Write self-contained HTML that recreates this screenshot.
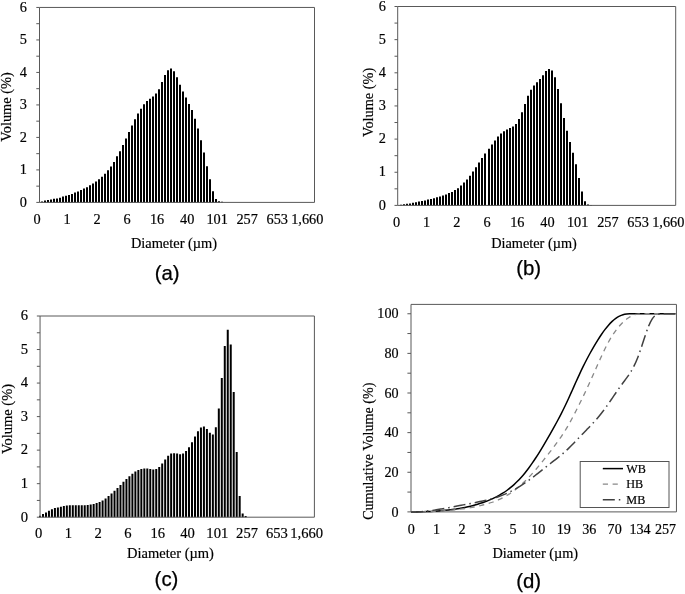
<!DOCTYPE html>
<html lang="en"><head><meta charset="utf-8"><title>Particle size distribution</title>
<style>
html,body{margin:0;padding:0;background:#fff}
svg{display:block}
text{font-family:"Liberation Serif","Times New Roman",serif;fill:#000;stroke:#000;stroke-width:.18px}
text.s{font-family:"Liberation Sans",Arial,sans-serif;font-size:20.4px;fill:#000;stroke:#000;stroke-width:0.25px}
</style></head><body>
<svg width="685" height="594" viewBox="0 0 685 594">
<rect width="685" height="594" fill="#fff"/>
<path d="M41 202.40V201.40h2V202.40zM44 202.40V200.60h2V202.40zM47 202.40V200.10h2V202.40zM50 202.40V199.50h2V202.40zM53 202.40V198.80h2V202.40zM56 202.40V198.50h2V202.40zM59 202.40V197.80h2V202.40zM62 202.40V196.50h2V202.40zM65 202.40V195.80h2V202.40zM68 202.40V194.90h2V202.40zM71 202.40V194.00h2V202.40zM74 202.40V192.40h2V202.40zM77 202.40V191.40h2V202.40zM80 202.40V190.10h2V202.40zM83 202.40V188.60h2V202.40zM86 202.40V187.20h2V202.40zM89 202.40V185.30h2V202.40zM92 202.40V183.50h2V202.40zM95 202.40V181.60h2V202.40zM98 202.40V179.30h2V202.40zM101 202.40V176.70h2V202.40zM104 202.40V173.80h2V202.40zM107 202.40V170.30h2V202.40zM110 202.40V166.50h2V202.40zM113 202.40V162.00h2V202.40zM116 202.40V156.30h2V202.40zM119 202.40V151.20h2V202.40zM122 202.40V145.00h2V202.40zM125 202.40V138.40h2V202.40zM128 202.40V132.10h2V202.40zM131 202.40V125.40h2V202.40zM134 202.40V119.20h2V202.40zM137 202.40V113.50h2V202.40zM140 202.40V108.70h2V202.40zM143 202.40V104.20h2V202.40zM146 202.40V101.10h2V202.40zM149 202.40V98.80h2V202.40zM152 202.40V96.50h2V202.40zM155 202.40V93.50h2V202.40zM158 202.40V89.20h2V202.40zM161 202.40V82.10h2V202.40zM164 202.40V75.10h2V202.40zM167 202.40V70.20h2V202.40zM170 202.40V68.60h2V202.40zM173 202.40V71.30h2V202.40zM176 202.40V77.30h2V202.40zM179 202.40V84.70h2V202.40zM182 202.40V91.60h2V202.40zM185 202.40V97.50h2V202.40zM188 202.40V103.90h2V202.40zM191 202.40V110.10h2V202.40zM194 202.40V118.70h2V202.40zM197 202.40V128.50h2V202.40zM200 202.40V140.20h2V202.40zM203 202.40V152.50h2V202.40zM206 202.40V166.20h2V202.40zM209 202.40V179.30h2V202.40zM212 202.40V191.20h2V202.40zM215 202.40V199.00h2V202.40zM218 202.40V201.20h2V202.40zM221 202.40V201.80h2V202.40z" fill="#000"/>
<path d="M39.5 202.4V7.45H314.5V202.4z" fill="none" stroke="#595959" stroke-width="1"/>
<path d="M36.30 202.40H39.5M36.30 186.15H39.5M36.30 169.91H39.5M36.30 153.66H39.5M36.30 137.42H39.5M36.30 121.17H39.5M36.30 104.93H39.5M36.30 88.68H39.5M36.30 72.43H39.5M36.30 56.19H39.5M36.30 39.94H39.5M36.30 23.70H39.5M36.30 7.45H39.5" stroke="#595959" stroke-width="1" fill="none"/>
<text x="27.0" y="206.62" text-anchor="end" font-size="14.3">0</text>
<text x="27.0" y="174.13" text-anchor="end" font-size="14.3">1</text>
<text x="27.0" y="141.64" text-anchor="end" font-size="14.3">2</text>
<text x="27.0" y="109.14" text-anchor="end" font-size="14.3">3</text>
<text x="27.0" y="76.65" text-anchor="end" font-size="14.3">4</text>
<text x="27.0" y="44.16" text-anchor="end" font-size="14.3">5</text>
<text x="27.0" y="11.67" text-anchor="end" font-size="14.3">6</text>
<text x="37.00" y="223.7" text-anchor="middle" font-size="14.3">0</text>
<text x="67.03" y="223.7" text-anchor="middle" font-size="14.3">1</text>
<text x="97.06" y="223.7" text-anchor="middle" font-size="14.3">2</text>
<text x="127.09" y="223.7" text-anchor="middle" font-size="14.3">6</text>
<text x="157.12" y="223.7" text-anchor="middle" font-size="14.3">16</text>
<text x="187.15" y="223.7" text-anchor="middle" font-size="14.3">40</text>
<text x="217.18" y="223.7" text-anchor="middle" font-size="14.3">101</text>
<text x="247.21" y="223.7" text-anchor="middle" font-size="14.3">257</text>
<text x="277.24" y="223.7" text-anchor="middle" font-size="14.3">653</text>
<text x="307.27" y="223.7" text-anchor="middle" font-size="14.3">1,660</text>
<text x="174" y="247.6" text-anchor="middle" font-size="14.4">Diameter (µm)</text>
<text transform="translate(11.4 107.0) rotate(-90)" text-anchor="middle" font-size="14.4">Volume (%)</text>
<text x="167.2" y="279.8" text-anchor="middle" class="s">(a)</text>
<path d="M400 205.40V204.70h2V205.40zM403 205.40V204.30h2V205.40zM406 205.40V203.65h2V205.40zM409 205.40V203.40h2V205.40zM412 205.40V202.70h2V205.40zM415 205.40V202.30h2V205.40zM418 205.40V201.60h2V205.40zM421 205.40V201.00h2V205.40zM424 205.40V200.40h2V205.40zM427 205.40V199.60h2V205.40zM430 205.40V198.90h2V205.40zM433 205.40V198.30h2V205.40zM436 205.40V197.30h2V205.40zM439 205.40V196.60h2V205.40zM442 205.40V195.60h2V205.40zM445 205.40V194.60h2V205.40zM448 205.40V193.00h2V205.40zM451 205.40V191.90h2V205.40zM454 205.40V189.90h2V205.40zM457 205.40V188.20h2V205.40zM460 205.40V185.50h2V205.40zM463 205.40V182.50h2V205.40zM466 205.40V179.40h2V205.40zM469 205.40V175.70h2V205.40zM472 205.40V171.40h2V205.40zM475 205.40V167.30h2V205.40zM478 205.40V162.60h2V205.40zM481 205.40V157.90h2V205.40zM484 205.40V153.50h2V205.40zM488 205.40V148.80h2V205.40zM491 205.40V144.40h2V205.40zM494 205.40V140.40h2V205.40zM497 205.40V136.40h2V205.40zM500 205.40V133.40h2V205.40zM503 205.40V131.20h2V205.40zM506 205.40V129.40h2V205.40zM509 205.40V127.90h2V205.40zM512 205.40V126.50h2V205.40zM515 205.40V124.00h2V205.40zM518 205.40V119.10h2V205.40zM521 205.40V112.30h2V205.40zM524 205.40V103.90h2V205.40zM527 205.40V95.80h2V205.40zM530 205.40V89.70h2V205.40zM533 205.40V85.40h2V205.40zM536 205.40V82.30h2V205.40zM539 205.40V79.00h2V205.40zM542 205.40V75.20h2V205.40zM545 205.40V71.10h2V205.40zM548 205.40V68.90h2V205.40zM551 205.40V70.50h2V205.40zM554 205.40V77.30h2V205.40zM557 205.40V89.10h2V205.40zM560 205.40V103.20h2V205.40zM563 205.40V117.90h2V205.40zM566 205.40V130.80h2V205.40zM569 205.40V141.90h2V205.40zM572 205.40V152.70h2V205.40zM575 205.40V164.30h2V205.40zM578 205.40V178.00h2V205.40zM581 205.40V191.60h2V205.40zM584 205.40V201.20h2V205.40zM587 205.40V204.50h2V205.40zM590 205.40V204.90h2V205.40z" fill="#000"/>
<path d="M397.7 205.4V6.5H675.7V205.4z" fill="none" stroke="#595959" stroke-width="1"/>
<path d="M394.50 205.40H397.7M394.50 188.83H397.7M394.50 172.25H397.7M394.50 155.68H397.7M394.50 139.10H397.7M394.50 122.53H397.7M394.50 105.95H397.7M394.50 89.38H397.7M394.50 72.80H397.7M394.50 56.23H397.7M394.50 39.65H397.7M394.50 23.08H397.7M394.50 6.50H397.7" stroke="#595959" stroke-width="1" fill="none"/>
<text x="386.0" y="209.62" text-anchor="end" font-size="14.3">0</text>
<text x="386.0" y="176.47" text-anchor="end" font-size="14.3">1</text>
<text x="386.0" y="143.32" text-anchor="end" font-size="14.3">2</text>
<text x="386.0" y="110.17" text-anchor="end" font-size="14.3">3</text>
<text x="386.0" y="77.02" text-anchor="end" font-size="14.3">4</text>
<text x="386.0" y="43.87" text-anchor="end" font-size="14.3">5</text>
<text x="386.0" y="10.72" text-anchor="end" font-size="14.3">6</text>
<text x="396.50" y="227" text-anchor="middle" font-size="14.3">0</text>
<text x="426.70" y="227" text-anchor="middle" font-size="14.3">1</text>
<text x="456.90" y="227" text-anchor="middle" font-size="14.3">2</text>
<text x="487.10" y="227" text-anchor="middle" font-size="14.3">6</text>
<text x="517.30" y="227" text-anchor="middle" font-size="14.3">16</text>
<text x="547.50" y="227" text-anchor="middle" font-size="14.3">40</text>
<text x="577.70" y="227" text-anchor="middle" font-size="14.3">101</text>
<text x="607.90" y="227" text-anchor="middle" font-size="14.3">257</text>
<text x="638.10" y="227" text-anchor="middle" font-size="14.3">653</text>
<text x="668.30" y="227" text-anchor="middle" font-size="14.3">1,660</text>
<text x="534" y="248.0" text-anchor="middle" font-size="14.3">Diameter (µm)</text>
<text transform="translate(372.9 102.4) rotate(-90)" text-anchor="middle" font-size="14.3">Volume (%)</text>
<text x="528.6" y="274.8" text-anchor="middle" class="s">(b)</text>
<path d="M39.02 517.20V515.70h2V517.20zM42.0 517.20V514.00h2V517.20zM44.98 517.20V512.50h2V517.20zM47.96 517.20V510.80h2V517.20zM50.94 517.20V509.30h2V517.20zM53.92 517.20V508.10h2V517.20zM56.9 517.20V507.40h2V517.20zM59.88 517.20V506.70h2V517.20zM62.86 517.20V505.90h2V517.20zM65.84 517.20V505.50h2V517.20zM68.82 517.20V505.30h2V517.20zM71.8 517.20V505.20h2V517.20zM74.78 517.20V505.30h2V517.20zM77.76 517.20V505.30h2V517.20zM80.74 517.20V505.30h2V517.20zM83.72 517.20V505.20h2V517.20zM86.7 517.20V504.90h2V517.20zM89.68 517.20V504.50h2V517.20zM92.66 517.20V503.90h2V517.20zM95.64 517.20V503.00h2V517.20zM98.62 517.20V502.00h2V517.20zM101.6 517.20V500.40h2V517.20zM104.58 517.20V498.60h2V517.20zM107.56 517.20V496.10h2V517.20zM110.54 517.20V493.50h2V517.20zM113.52 517.20V490.70h2V517.20zM116.5 517.20V487.90h2V517.20zM119.48 517.20V484.90h2V517.20zM122.46 517.20V481.70h2V517.20zM125.44 517.20V479.10h2V517.20zM128.42 517.20V476.20h2V517.20zM131.4 517.20V473.70h2V517.20zM134.38 517.20V471.50h2V517.20zM137.36 517.20V470.00h2V517.20zM140.34 517.20V468.90h2V517.20zM143.32 517.20V468.40h2V517.20zM146.3 517.20V468.40h2V517.20zM149.28 517.20V469.00h2V517.20zM152.26 517.20V469.40h2V517.20zM155.24 517.20V469.00h2V517.20zM158.22 517.20V467.10h2V517.20zM161.2 517.20V463.40h2V517.20zM164.18 517.20V459.50h2V517.20zM167.16 517.20V455.70h2V517.20zM170.14 517.20V453.60h2V517.20zM173.12 517.20V453.30h2V517.20zM176.1 517.20V453.60h2V517.20zM179.08 517.20V454.20h2V517.20zM182.06 517.20V453.60h2V517.20zM185.04 517.20V451.00h2V517.20zM188.02 517.20V447.30h2V517.20zM191.0 517.20V442.20h2V517.20zM193.98 517.20V436.50h2V517.20zM196.96 517.20V431.20h2V517.20zM199.94 517.20V427.40h2V517.20zM202.92 517.20V426.50h2V517.20zM205.9 517.20V428.90h2V517.20zM208.88 517.20V432.80h2V517.20zM211.86 517.20V434.40h2V517.20zM214.84 517.20V427.30h2V517.20zM217.82 517.20V408.50h2V517.20zM220.8 517.20V378.00h2V517.20zM223.78 517.20V345.90h2V517.20zM226.76 517.20V329.70h2V517.20zM229.74 517.20V344.60h2V517.20zM232.72 517.20V391.90h2V517.20zM235.7 517.20V451.90h2V517.20zM238.68 517.20V496.10h2V517.20zM241.66 517.20V513.60h2V517.20zM244.64 517.20V515.90h2V517.20z" fill="#000"/>
<path d="M40.05 517.2V316.0H314.4V517.2z" fill="none" stroke="#595959" stroke-width="1"/>
<path d="M36.85 517.20H40.05M36.85 500.43H40.05M36.85 483.67H40.05M36.85 466.90H40.05M36.85 450.13H40.05M36.85 433.37H40.05M36.85 416.60H40.05M36.85 399.83H40.05M36.85 383.07H40.05M36.85 366.30H40.05M36.85 349.53H40.05M36.85 332.77H40.05M36.85 316.00H40.05" stroke="#595959" stroke-width="1" fill="none"/>
<text x="28" y="521.51" text-anchor="end" font-size="14.6">0</text>
<text x="28" y="487.97" text-anchor="end" font-size="14.6">1</text>
<text x="28" y="454.44" text-anchor="end" font-size="14.6">2</text>
<text x="28" y="420.91" text-anchor="end" font-size="14.6">3</text>
<text x="28" y="387.37" text-anchor="end" font-size="14.6">4</text>
<text x="28" y="353.84" text-anchor="end" font-size="14.6">5</text>
<text x="28" y="320.31" text-anchor="end" font-size="14.6">6</text>
<text x="38.60" y="538.2" text-anchor="middle" font-size="14.6">0</text>
<text x="68.38" y="538.2" text-anchor="middle" font-size="14.6">1</text>
<text x="98.16" y="538.2" text-anchor="middle" font-size="14.6">2</text>
<text x="127.94" y="538.2" text-anchor="middle" font-size="14.6">6</text>
<text x="157.72" y="538.2" text-anchor="middle" font-size="14.6">16</text>
<text x="187.50" y="538.2" text-anchor="middle" font-size="14.6">40</text>
<text x="217.28" y="538.2" text-anchor="middle" font-size="14.6">101</text>
<text x="247.06" y="538.2" text-anchor="middle" font-size="14.6">257</text>
<text x="276.84" y="538.2" text-anchor="middle" font-size="14.6">653</text>
<text x="306.62" y="538.2" text-anchor="middle" font-size="14.6">1,660</text>
<text x="170.5" y="558.3" text-anchor="middle" font-size="14.5">Diameter (µm)</text>
<text transform="translate(11.5 419.0) rotate(-90)" text-anchor="middle" font-size="14.5">Volume (%)</text>
<text x="166.5" y="585.5" text-anchor="middle" class="s">(c)</text>
<path d="M411.0 511.9V304.4H676.45V511.9z" fill="none" stroke="#595959" stroke-width="1"/>
<path d="M407.40 511.90H411.0M407.40 492.08H411.0M407.40 472.27H411.0M407.40 452.45H411.0M407.40 432.64H411.0M407.40 412.82H411.0M407.40 393.01H411.0M407.40 373.19H411.0M407.40 353.38H411.0M407.40 333.56H411.0M407.40 313.75H411.0" stroke="#595959" stroke-width="1" fill="none"/>
<text x="398.5" y="516.55" text-anchor="end" font-size="14.1">0</text>
<text x="398.5" y="476.92" text-anchor="end" font-size="14.1">20</text>
<text x="398.5" y="437.29" text-anchor="end" font-size="14.1">40</text>
<text x="398.5" y="397.66" text-anchor="end" font-size="14.1">60</text>
<text x="398.5" y="358.03" text-anchor="end" font-size="14.1">80</text>
<text x="398.5" y="318.40" text-anchor="end" font-size="14.1">100</text>
<text x="411.20" y="533.7" text-anchor="middle" font-size="14.1">0</text>
<text x="436.63" y="533.7" text-anchor="middle" font-size="14.1">1</text>
<text x="462.06" y="533.7" text-anchor="middle" font-size="14.1">2</text>
<text x="487.49" y="533.7" text-anchor="middle" font-size="14.1">3</text>
<text x="512.92" y="533.7" text-anchor="middle" font-size="14.1">5</text>
<text x="538.35" y="533.7" text-anchor="middle" font-size="14.1">10</text>
<text x="563.78" y="533.7" text-anchor="middle" font-size="14.1">19</text>
<text x="589.21" y="533.7" text-anchor="middle" font-size="14.1">36</text>
<text x="614.64" y="533.7" text-anchor="middle" font-size="14.1">70</text>
<text x="640.07" y="533.7" text-anchor="middle" font-size="14.1">134</text>
<text x="665.50" y="533.7" text-anchor="middle" font-size="14.1">257</text>
<text x="535.3" y="557.8" text-anchor="middle" font-size="14.3">Diameter (µm)</text>
<text transform="translate(373.3 451.2) rotate(-90)" text-anchor="middle" font-size="14.1">Cumulative Volume (%)</text>
<text x="528.7" y="588.2" text-anchor="middle" class="s">(d)</text>
<path d="M411.00 511.90C411.22 511.90 411.51 511.90 412.33 511.90C413.16 511.90 414.76 511.91 415.97 511.90C417.18 511.89 418.39 511.87 419.60 511.85C420.81 511.82 422.02 511.78 423.23 511.74C424.44 511.70 425.65 511.66 426.87 511.61C428.08 511.56 429.29 511.50 430.50 511.44C431.71 511.37 432.92 511.30 434.13 511.22C435.34 511.15 436.55 511.08 437.76 510.99C438.98 510.91 440.19 510.82 441.40 510.72C442.61 510.61 443.82 510.49 445.03 510.36C446.24 510.24 447.45 510.11 448.66 509.97C449.87 509.83 451.08 509.68 452.30 509.52C453.51 509.36 454.72 509.19 455.93 509.01C457.14 508.82 458.35 508.62 459.56 508.41C460.77 508.19 461.98 507.98 463.19 507.74C464.41 507.51 465.62 507.26 466.83 507.00C468.04 506.73 469.25 506.45 470.46 506.16C471.67 505.87 472.88 505.57 474.09 505.24C475.30 504.92 476.51 504.57 477.73 504.20C478.94 503.84 480.15 503.46 481.36 503.06C482.57 502.66 483.78 502.24 484.99 501.80C486.20 501.35 487.41 500.89 488.62 500.39C489.84 499.90 491.05 499.38 492.26 498.83C493.47 498.28 494.68 497.71 495.89 497.09C497.10 496.48 498.31 495.83 499.52 495.14C500.73 494.45 501.94 493.73 503.16 492.96C504.37 492.19 505.58 491.38 506.79 490.50C508.00 489.63 509.21 488.69 510.42 487.70C511.63 486.71 512.84 485.68 514.05 484.58C515.27 483.48 516.48 482.32 517.69 481.09C518.90 479.86 520.11 478.55 521.32 477.19C522.53 475.83 523.74 474.41 524.95 472.91C526.16 471.42 527.37 469.85 528.59 468.22C529.80 466.60 531.01 464.90 532.22 463.16C533.43 461.41 534.64 459.59 535.85 457.74C537.06 455.89 538.27 453.98 539.48 452.03C540.70 450.08 541.91 448.08 543.12 446.05C544.33 444.03 545.54 441.96 546.75 439.88C547.96 437.80 549.17 435.70 550.38 433.57C551.59 431.44 552.80 429.30 554.02 427.12C555.23 424.94 556.44 422.74 557.65 420.48C558.86 418.23 560.07 415.96 561.28 413.59C562.49 411.22 563.70 408.77 564.91 406.26C566.13 403.74 567.34 401.14 568.55 398.50C569.76 395.87 570.97 393.15 572.18 390.45C573.39 387.75 574.60 384.98 575.81 382.29C577.02 379.60 578.23 376.91 579.45 374.31C580.66 371.70 581.87 369.15 583.08 366.68C584.29 364.22 585.50 361.83 586.71 359.51C587.92 357.19 589.13 354.95 590.34 352.76C591.56 350.57 592.77 348.44 593.98 346.37C595.19 344.31 596.40 342.31 597.61 340.37C598.82 338.44 600.03 336.54 601.24 334.75C602.45 332.96 603.66 331.25 604.88 329.65C606.09 328.05 607.30 326.53 608.51 325.15C609.72 323.77 610.93 322.50 612.14 321.37C613.35 320.23 614.56 319.20 615.77 318.33C616.99 317.46 618.20 316.73 619.41 316.13C620.62 315.53 621.83 315.07 623.04 314.73C624.25 314.38 625.46 314.20 626.67 314.05C627.88 313.90 629.09 313.89 630.31 313.85C631.52 313.80 632.73 313.80 633.94 313.78C635.15 313.76 636.36 313.76 637.57 313.75C638.78 313.74 639.99 313.75 641.20 313.75C642.42 313.75 643.63 313.75 644.84 313.75C646.05 313.75 647.26 313.75 648.47 313.75C649.68 313.75 650.89 313.75 652.10 313.75C653.31 313.75 654.52 313.75 655.74 313.75C656.95 313.75 658.16 313.75 659.37 313.75C660.58 313.75 661.79 313.75 663.00 313.75C664.21 313.75 665.42 313.75 666.63 313.75C667.85 313.75 669.06 313.75 670.27 313.75C671.48 313.75 673.04 313.75 673.90 313.75C674.76 313.75 675.15 313.75 675.40 313.75" fill="none" stroke="#000" stroke-width="1.5"/>
<path d="M411.00 511.90C411.22 511.90 411.51 511.90 412.33 511.90C413.16 511.90 414.76 511.91 415.97 511.90C417.18 511.89 418.39 511.88 419.60 511.86C420.81 511.84 422.02 511.82 423.23 511.79C424.44 511.76 425.65 511.72 426.87 511.69C428.08 511.65 429.29 511.61 430.50 511.57C431.71 511.52 432.92 511.46 434.13 511.40C435.34 511.34 436.55 511.29 437.76 511.22C438.98 511.15 440.19 511.07 441.40 510.99C442.61 510.90 443.82 510.82 445.03 510.72C446.24 510.63 447.45 510.53 448.66 510.42C449.87 510.31 451.08 510.19 452.30 510.07C453.51 509.95 454.72 509.82 455.93 509.68C457.14 509.54 458.35 509.40 459.56 509.25C460.77 509.10 461.98 508.93 463.19 508.76C464.41 508.59 465.62 508.42 466.83 508.23C468.04 508.05 469.25 507.85 470.46 507.64C471.67 507.44 472.88 507.23 474.09 506.99C475.30 506.76 476.51 506.51 477.73 506.25C478.94 505.99 480.15 505.72 481.36 505.43C482.57 505.14 483.78 504.83 484.99 504.50C486.20 504.17 487.41 503.83 488.62 503.46C489.84 503.09 491.05 502.69 492.26 502.26C493.47 501.83 494.68 501.37 495.89 500.88C497.10 500.39 498.31 499.88 499.52 499.32C500.73 498.76 501.94 498.17 503.16 497.53C504.37 496.89 505.58 496.20 506.79 495.48C508.00 494.76 509.21 494.00 510.42 493.18C511.63 492.37 512.84 491.51 514.05 490.60C515.27 489.70 516.48 488.74 517.69 487.74C518.90 486.75 520.11 485.71 521.32 484.62C522.53 483.53 523.74 482.39 524.95 481.21C526.16 480.03 527.37 478.80 528.59 477.53C529.80 476.27 531.01 474.96 532.22 473.61C533.43 472.27 534.64 470.87 535.85 469.46C537.06 468.04 538.27 466.59 539.48 465.12C540.70 463.65 541.91 462.16 543.12 460.65C544.33 459.14 545.54 457.61 546.75 456.07C547.96 454.53 549.17 452.97 550.38 451.40C551.59 449.83 552.80 448.26 554.02 446.65C555.23 445.04 556.44 443.43 557.65 441.74C558.86 440.06 560.07 438.34 561.28 436.54C562.49 434.74 563.70 432.89 564.91 430.93C566.13 428.98 567.34 426.94 568.55 424.82C569.76 422.70 570.97 420.48 572.18 418.22C573.39 415.95 574.60 413.61 575.81 411.24C577.02 408.88 578.23 406.46 579.45 404.02C580.66 401.57 581.87 399.10 583.08 396.60C584.29 394.09 585.50 391.56 586.71 388.98C587.92 386.41 589.13 383.79 590.34 381.14C591.56 378.48 592.77 375.77 593.98 373.05C595.19 370.33 596.40 367.55 597.61 364.82C598.82 362.10 600.03 359.34 601.24 356.70C602.45 354.05 603.66 351.43 604.88 348.98C606.09 346.52 607.30 344.16 608.51 341.97C609.72 339.78 610.93 337.72 612.14 335.81C613.35 333.91 614.56 332.17 615.77 330.54C616.99 328.91 618.20 327.43 619.41 326.05C620.62 324.66 621.83 323.39 623.04 322.22C624.25 321.05 625.46 319.99 626.67 319.05C627.88 318.10 629.09 317.26 630.31 316.57C631.52 315.88 632.73 315.33 633.94 314.92C635.15 314.51 636.36 314.27 637.57 314.09C638.78 313.91 639.99 313.89 641.20 313.83C642.42 313.78 643.63 313.79 644.84 313.78C646.05 313.77 647.26 313.76 648.47 313.75C649.68 313.74 650.89 313.75 652.10 313.75C653.31 313.75 654.52 313.75 655.74 313.75C656.95 313.75 658.16 313.75 659.37 313.75C660.58 313.75 661.79 313.75 663.00 313.75C664.21 313.75 665.42 313.75 666.63 313.75C667.85 313.75 669.06 313.75 670.27 313.75C671.48 313.75 673.04 313.75 673.90 313.75C674.76 313.75 675.15 313.75 675.40 313.75" fill="none" stroke="#888888" stroke-width="1.3" stroke-dasharray="5.2 4.6"/>
<path d="M411.00 511.90C411.22 511.90 411.51 511.90 412.33 511.90C413.16 511.90 414.76 511.93 415.97 511.90C417.18 511.87 418.39 511.80 419.60 511.73C420.81 511.66 422.02 511.57 423.23 511.47C424.44 511.36 425.65 511.24 426.87 511.11C428.08 510.97 429.29 510.82 430.50 510.66C431.71 510.49 432.92 510.31 434.13 510.13C435.34 509.95 436.55 509.77 437.76 509.57C438.98 509.38 440.19 509.18 441.40 508.97C442.61 508.76 443.82 508.54 445.03 508.31C446.24 508.09 447.45 507.87 448.66 507.64C449.87 507.41 451.08 507.18 452.30 506.95C453.51 506.72 454.72 506.49 455.93 506.26C457.14 506.03 458.35 505.80 459.56 505.57C460.77 505.34 461.98 505.11 463.19 504.88C464.41 504.65 465.62 504.42 466.83 504.19C468.04 503.96 469.25 503.74 470.46 503.50C471.67 503.27 472.88 503.03 474.09 502.79C475.30 502.55 476.51 502.31 477.73 502.05C478.94 501.80 480.15 501.55 481.36 501.28C482.57 501.02 483.78 500.74 484.99 500.46C486.20 500.18 487.41 499.89 488.62 499.58C489.84 499.27 491.05 498.94 492.26 498.60C493.47 498.26 494.68 497.90 495.89 497.51C497.10 497.13 498.31 496.72 499.52 496.28C500.73 495.84 501.94 495.38 503.16 494.89C504.37 494.40 505.58 493.89 506.79 493.34C508.00 492.80 509.21 492.23 510.42 491.62C511.63 491.02 512.84 490.39 514.05 489.73C515.27 489.06 516.48 488.36 517.69 487.64C518.90 486.92 520.11 486.17 521.32 485.40C522.53 484.62 523.74 483.82 524.95 482.99C526.16 482.16 527.37 481.30 528.59 480.43C529.80 479.55 531.01 478.65 532.22 477.73C533.43 476.82 534.64 475.89 535.85 474.96C537.06 474.02 538.27 473.06 539.48 472.11C540.70 471.16 541.91 470.19 543.12 469.24C544.33 468.28 545.54 467.31 546.75 466.36C547.96 465.41 549.17 464.46 550.38 463.52C551.59 462.58 552.80 461.65 554.02 460.71C555.23 459.76 556.44 458.83 557.65 457.87C558.86 456.90 560.07 455.94 561.28 454.91C562.49 453.89 563.70 452.84 564.91 451.74C566.13 450.65 567.34 449.51 568.55 448.34C569.76 447.17 570.97 445.94 572.18 444.71C573.39 443.48 574.60 442.22 575.81 440.96C577.02 439.71 578.23 438.45 579.45 437.19C580.66 435.94 581.87 434.68 583.08 433.44C584.29 432.20 585.50 430.97 586.71 429.72C587.92 428.48 589.13 427.25 590.34 425.97C591.56 424.70 592.77 423.40 593.98 422.07C595.19 420.73 596.40 419.37 597.61 417.94C598.82 416.51 600.03 415.04 601.24 413.51C602.45 411.98 603.66 410.39 604.88 408.75C606.09 407.11 607.30 405.40 608.51 403.67C609.72 401.94 610.93 400.14 612.14 398.36C613.35 396.59 614.56 394.77 615.77 393.00C616.99 391.24 618.20 389.49 619.41 387.79C620.62 386.09 621.83 384.45 623.04 382.80C624.25 381.16 625.46 379.61 626.67 377.91C627.88 376.21 629.09 374.56 630.31 372.60C631.52 370.65 632.73 368.62 633.94 366.18C635.15 363.73 636.36 361.01 637.57 357.94C638.78 354.88 639.99 351.35 641.20 347.81C642.42 344.27 643.63 340.26 644.84 336.71C646.05 333.16 647.26 329.44 648.47 326.50C649.68 323.56 650.89 320.97 652.10 319.09C653.31 317.21 654.52 316.09 655.74 315.24C656.95 314.39 658.16 314.24 659.37 314.00C660.58 313.77 661.79 313.85 663.00 313.81C664.21 313.77 665.42 313.76 666.63 313.75C667.85 313.74 669.06 313.75 670.27 313.75C671.48 313.75 673.04 313.75 673.90 313.75C674.76 313.75 675.15 313.75 675.40 313.75" fill="none" stroke="#404040" stroke-width="1.5" stroke-dasharray="12 4 1.5 4"/>
<rect x="580.2" y="461.5" width="88.8" height="46" fill="#fff" stroke="#555" stroke-width="1"/>
<path d="M602.8 468.6H623" stroke="#000" stroke-width="1.5"/>
<path d="M602.8 484.2H620" stroke="#888888" stroke-width="1.3" stroke-dasharray="5.2 4.6"/>
<path d="M602.8 499.7H622" stroke="#404040" stroke-width="1.5" stroke-dasharray="12 4 1.5 4"/>
<text x="626.3" y="472.60" font-size="12.2">WB</text>
<text x="626.3" y="488.15" font-size="12.2">HB</text>
<text x="626.3" y="503.70" font-size="12.2">MB</text>
</svg>
</body></html>
